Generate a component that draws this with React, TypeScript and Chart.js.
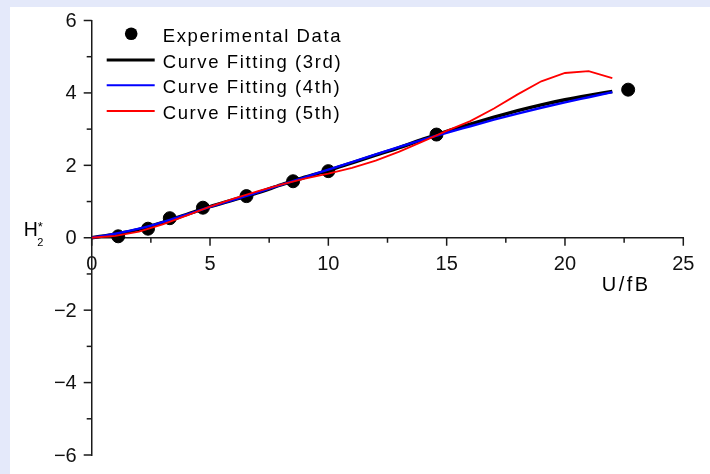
import React, { useEffect, useRef } from 'react';
import { Chart, registerables } from 'chart.js';

Chart.register(...registerables);

// Experimental data
const expX = [1.12, 2.38, 3.3, 4.7, 6.54, 8.51, 10.0, 14.57, 22.67];
const expY = [0.04, 0.25, 0.54, 0.83, 1.15, 1.56, 1.84, 2.85, 4.09];

// Curve fitting evaluation points
const fitX = [0, 1, 2, 3, 4, 5, 6, 7, 8, 9, 10, 11, 12, 13, 14, 15, 16, 17, 18, 19, 20, 21, 22];
const fit3rd = [0, 0.1, 0.23, 0.42, 0.64, 0.86, 1.05, 1.24, 1.46, 1.67, 1.86, 2.07, 2.28, 2.49, 2.72, 2.94, 3.14, 3.33, 3.51, 3.67, 3.81, 3.93, 4.04];
const fit4th = [0, 0.11, 0.25, 0.43, 0.64, 0.85, 1.05, 1.25, 1.46, 1.67, 1.88, 2.09, 2.3, 2.51, 2.71, 2.9, 3.08, 3.26, 3.43, 3.59, 3.74, 3.88, 4.02];
const fit5th = [0, 0.05, 0.17, 0.37, 0.61, 0.86, 1.08, 1.28, 1.47, 1.63, 1.77, 1.93, 2.13, 2.38, 2.66, 2.95, 3.22, 3.57, 3.96, 4.32, 4.55, 4.6, 4.41];

const legendLabels = ['Experimental Data', 'Curve Fitting (3rd)', 'Curve Fitting (4th)', 'Curve Fitting (5th)'];
const legendColors = ['#000000', '#000000', '#0000ff', '#ff0000'];
const legendWidths = [0, 3, 2, 2];

const xTitle = 'U/fB';

const AXIS = '#1a1a1a';
const FONT = "'Liberation Sans', Arial, sans-serif";

const pts = (xs: number[], ys: number[]) => xs.map((x, i) => ({ x, y: ys[i] }));

const yLabel = (n: number) => (n < 0 ? '\u2212' + Math.abs(n) : String(n));

const overlayPlugin = {
  id: 'overlay',
  afterDraw(chart: any) {
    const ctx = chart.ctx as CanvasRenderingContext2D;
    const xs = chart.scales.x;
    const ys = chart.scales.y;
    const ca = chart.chartArea;
    const xAxisY = ys.getPixelForValue(0);
    const yAxisX = xs.getPixelForValue(0);
    ctx.save();
    ctx.strokeStyle = AXIS;
    ctx.lineWidth = 1.5;
    // ticks
    xs.ticks.forEach((t: any) => {
      const px = xs.getPixelForValue(t.value);
      const len = Math.abs(t.value % 5) < 1e-9 ? 8 : 5;
      ctx.beginPath();
      ctx.moveTo(px, xAxisY);
      ctx.lineTo(px, xAxisY + len);
      ctx.stroke();
    });
    ctx.font = `20px ${FONT}`;
    ctx.fillStyle = '#111';
    ctx.textAlign = 'right';
    ctx.textBaseline = 'middle';
    ys.ticks.forEach((t: any) => {
      const py = ys.getPixelForValue(t.value);
      const major = Math.abs(t.value % 2) < 1e-9;
      const len = major ? 8 : 5;
      ctx.beginPath();
      ctx.moveTo(yAxisX, py);
      ctx.lineTo(yAxisX - len, py);
      ctx.stroke();
      if (major) ctx.fillText(yLabel(t.value), yAxisX - 15, py + 1);
    });

    // legend
    const rowY = [13.2, 39.5, 64.8, 90.5];
    const baseY = [21.3, 47.1, 72.9, 98.7];
    ctx.font = `18.5px ${FONT}`;
    (ctx as any).letterSpacing = '1.6px';
    ctx.textAlign = 'left';
    ctx.textBaseline = 'alphabetic';
    legendLabels.forEach((lab, i) => {
      const y = ca.top + rowY[i];
      if (i === 0) {
        ctx.fillStyle = '#000';
        ctx.beginPath();
        ctx.arc(ca.left + 39.5, y, 6.3, 0, Math.PI * 2);
        ctx.fill();
      } else {
        ctx.strokeStyle = legendColors[i];
        ctx.lineWidth = legendWidths[i];
        ctx.beginPath();
        ctx.moveTo(ca.left + 15, y);
        ctx.lineTo(ca.left + 63, y);
        ctx.stroke();
      }
      ctx.fillStyle = '#000';
      ctx.fillText(lab, ca.left + 71, ca.top + baseY[i]);
    });

    // x title
    ctx.font = `20px ${FONT}`;
    (ctx as any).letterSpacing = '2.5px';
    ctx.fillText(xTitle, ca.left + 510, xAxisY + 53.5);

    // y title H2*
    (ctx as any).letterSpacing = '0px';
    ctx.font = `19.5px ${FONT}`;
    ctx.fillText('H', ca.left - 68, xAxisY - 1.3);
    ctx.font = `11px ${FONT}`;
    ctx.fillText('2', ca.left - 54.5, xAxisY + 8.6);
    ctx.font = `13px ${FONT}`;
    ctx.fillText('*', ca.left - 54, xAxisY - 6.5);
    ctx.restore();
  },
};

export default function App() {
  const ref = useRef<HTMLCanvasElement | null>(null);
  useEffect(() => {
    if (!ref.current) return;
    const chart = new Chart(ref.current, {
      type: 'scatter',
      data: {
        datasets: [
          {
            label: legendLabels[0],
            data: pts(expX, expY),
            backgroundColor: '#000',
            borderColor: '#000',
            pointRadius: 6.5,
            showLine: false,
            order: 4,
          },
          {
            label: legendLabels[1],
            data: pts(fitX, fit3rd),
            borderColor: '#000',
            borderWidth: 3.5,
            pointRadius: 0,
            showLine: true,
            cubicInterpolationMode: 'monotone',
            order: 3,
          },
          {
            label: legendLabels[2],
            data: pts(fitX, fit4th),
            borderColor: '#0000ff',
            borderWidth: 2.4,
            pointRadius: 0,
            showLine: true,
            cubicInterpolationMode: 'monotone',
            order: 2,
          },
          {
            label: legendLabels[3],
            data: pts(fitX, fit5th),
            borderColor: '#ff0000',
            borderWidth: 1.8,
            pointRadius: 0,
            showLine: true,
            tension: 0,
            order: 1,
          },
        ],
      } as any,
      options: {
        animation: false,
        responsive: false,
        maintainAspectRatio: false,
        layout: { padding: { left: 81.7, right: 26.7, top: 13.5, bottom: 19 } },
        plugins: { legend: { display: false }, tooltip: { enabled: false } },
        scales: {
          x: {
            type: 'linear',
            position: { y: 0 } as any,
            min: 0,
            max: 25,
            grid: { display: true, drawOnChartArea: false, drawTicks: true, tickLength: 8, tickColor: 'rgba(0,0,0,0)' },
            border: { display: true, color: AXIS, width: 1.5 },
            ticks: {
              stepSize: 2.5,
              autoSkip: false,
              maxRotation: 0,
              padding: 7,
              color: '#111',
              font: { family: FONT, size: 20 },
              callback: (v: any) => (Math.abs(Number(v) % 5) < 1e-9 ? String(v) : ''),
            },
          },
          y: {
            type: 'linear',
            position: { x: 0 } as any,
            min: -6,
            max: 6,
            grid: { display: true, drawOnChartArea: false, drawTicks: false },
            border: { display: true, color: AXIS, width: 1.5 },
            ticks: {
              display: false,
              stepSize: 1,
              autoSkip: false,
            },
          },
        },
      } as any,
      plugins: [overlayPlugin],
    });
    return () => chart.destroy();
  }, []);

  return (
    <div style={{ position: 'fixed', left: 0, top: 0, width: 710, height: 474, background: '#e4e9fa' }}>
      <div style={{ position: 'absolute', left: 10, top: 7, width: 700, height: 467, background: '#ffffff' }}>
        <canvas ref={ref} width={700} height={467} style={{ display: 'block', width: 700, height: 467 }} />
      </div>
    </div>
  );
}
